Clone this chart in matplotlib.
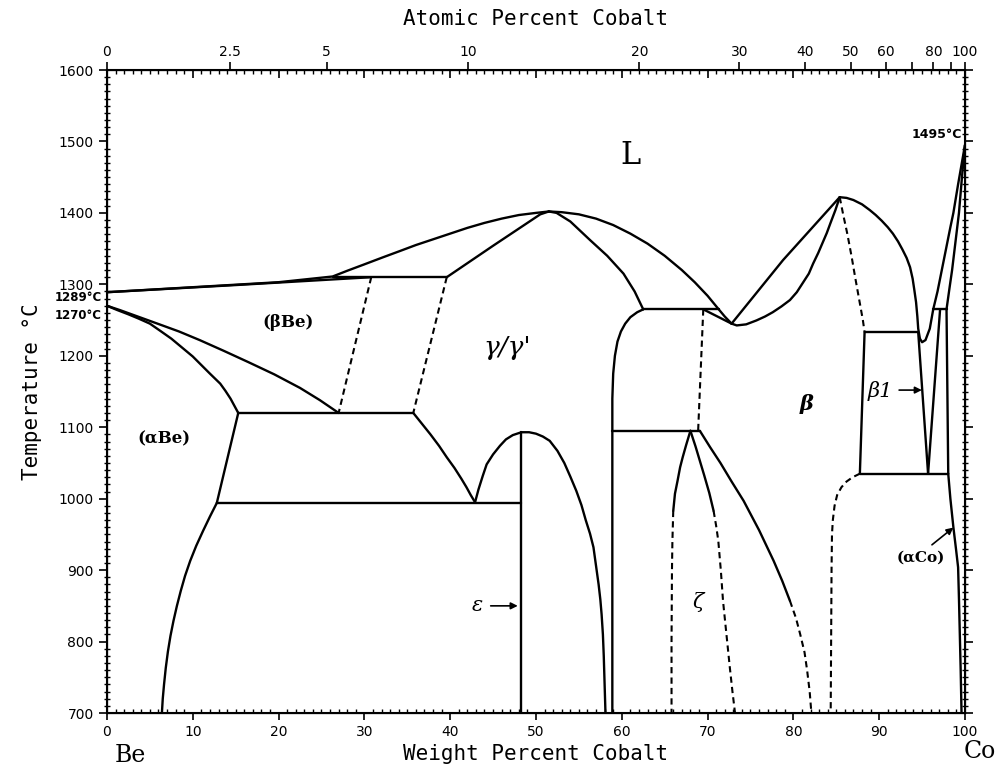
import numpy as np
import matplotlib
matplotlib.use("Agg")
import matplotlib.pyplot as plt
from matplotlib.ticker import MultipleLocator

plt.rcParams.update({'font.size': 10})

# atomic masses used for the top (atomic %) axis
M_BE, M_CO = 9.012, 58.933
at_ticks = [0, 2.5, 5, 10, 20, 30, 40, 50, 60, 70, 80, 90, 100]
at_labels = ["0", "2.5", "5", "10", "20", "30", "40", "50", "60", "", "80", "", "100"]

# phase boundaries, (wt% Co, deg C)
liq_be = [(0, 1289), (10, 1296), (20, 1303), (26.3, 1311), (28, 1319), (30, 1328), (32.2, 1338),
          (34, 1346), (36, 1355), (38, 1363), (40, 1371), (42, 1379), (44, 1386), (46, 1392),
          (48, 1397), (50, 1400), (51.5, 1402)]
sol_be = [(0, 1289), (15, 1299), (30.8, 1310)]
per_1310 = [(26.3, 1310), (39.6, 1310)]
gam_sol_l = [(39.6, 1310), (45, 1354), (50.5, 1398), (51.5, 1402)]
gam_sol_r = [(51.5, 1402), (52.4, 1400), (54, 1388), (56.3, 1362), (58.3, 1340), (60.2, 1315),
             (61.5, 1290), (62.5, 1265)]
liq_gam_r = [(51.5, 1402), (53, 1401), (55, 1398), (57, 1392), (59, 1383), (61, 1371), (63, 1357),
             (65, 1340), (67, 1320), (68.5, 1303), (70, 1284), (71.3, 1265), (72, 1255), (72.8, 1245)]
per_1265 = [(62.5, 1265), (71.3, 1265)]
tri_1265 = [(69.5, 1265), (72.8, 1245)]
gam_right = [(62.5, 1265), (61.8, 1261), (61.0, 1254), (60.4, 1245), (59.9, 1234), (59.5, 1220),
             (59.2, 1200), (59.0, 1175), (58.9, 1140), (58.9, 1095), (58.9, 700)]
line_1095 = [(58.9, 1095), (69.1, 1095)]
zeta_l = [(68.0, 1095), (67.5, 1075), (67.1, 1058), (66.8, 1044), (66.5, 1025), (66.2, 1007), (66.0, 983)]
zeta_l_d = [(66.0, 983), (65.9, 940), (65.85, 900), (65.8, 800), (65.8, 700)]
zeta_r = [(68.0, 1095), (68.6, 1073), (69.1, 1053), (69.6, 1033), (70.2, 1008), (70.7, 983)]
zeta_r_d = [(70.7, 983), (71.0, 962), (71.25, 941), (71.55, 899), (71.8, 857), (72.2, 810),
            (72.6, 763), (72.9, 730), (73.2, 700)]
beta_ll = [(69.1, 1095), (70.3, 1072), (71.5, 1050), (72.8, 1024), (74.2, 997), (76, 956),
           (77.7, 913), (78.7, 885), (79.6, 857)]
beta_ll_d = [(79.6, 857), (80.3, 833), (80.8, 810), (81.3, 785), (81.6, 760), (81.9, 730), (82.1, 700)]
dash_1265 = [(69.5, 1265), (68.9, 1095)]
beta_sol_l = [(72.8, 1245), (78.8, 1334), (85.4, 1422)]
beta_liq_l = [(72.8, 1245), (73.4, 1242.5), (74.5, 1244), (75.7, 1249.5), (76.7, 1255), (77.6, 1261),
              (78.6, 1269), (79.6, 1278), (80.4, 1289), (81.1, 1302), (81.8, 1315), (82.3, 1329),
              (82.9, 1344), (83.4, 1358), (83.9, 1372), (84.3, 1385), (84.9, 1404), (85.4, 1422)]
beta_liq_r = [(85.4, 1422), (86.2, 1421), (87, 1418), (88, 1412), (88.9, 1404), (89.6, 1397),
              (90.3, 1389), (91, 1380), (91.6, 1371), (92.2, 1360), (92.7, 1349), (93.2, 1337),
              (93.6, 1324), (93.9, 1308), (94.1, 1292), (94.3, 1275), (94.45, 1255), (94.55, 1238),
              (94.75, 1224), (95.0, 1219), (95.4, 1222), (95.9, 1238), (96.3, 1265)]
beta_peak_d = [(85.4, 1422), (85.8, 1398), (86.3, 1370), (86.8, 1338), (87.2, 1310), (87.5, 1290),
               (87.8, 1270), (88.1, 1250), (88.3, 1233)]
b1_top = [(88.3, 1233), (94.55, 1233)]
b1_left = [(88.3, 1233), (87.75, 1035)]
line_1035 = [(87.75, 1035), (98.05, 1035)]
b1_v_l = [(94.55, 1233), (95.7, 1035)]
b1_v_r = [(97.1, 1265), (95.7, 1035)]
b1_right = [(97.85, 1265), (98.05, 1035)]
line_1265b = [(96.3, 1265), (97.85, 1265)]
co_liq = [(96.3, 1265), (96.8, 1290), (97.3, 1320), (97.8, 1350), (98.3, 1380), (98.65, 1400),
          (99.2, 1440), (100, 1495)]
co_sol = [(97.85, 1265), (98.2, 1295), (98.5, 1320), (98.9, 1360), (99.3, 1400), (99.65, 1450), (100, 1495)]
co_solvus = [(98.05, 1035), (98.3, 1000), (98.65, 960), (98.95, 930), (99.2, 904), (99.3, 860),
             (99.4, 810), (99.5, 760), (99.6, 700)]
beta_rr_d = [(87.75, 1035), (86.9, 1030), (86.2, 1024), (85.6, 1016), (85.1, 1005), (84.8, 990),
             (84.6, 970), (84.5, 950), (84.45, 900), (84.4, 800), (84.35, 700)]
bbe_low = [(0, 1270), (1.5, 1264), (3, 1257.5), (4.5, 1251), (6, 1244.5), (8.4, 1234), (10.8, 1222),
           (13.6, 1207), (16.5, 1191), (19.5, 1174), (22.5, 1155), (24.8, 1138), (27.0, 1120)]
abe_up = [(0, 1270), (1.2, 1264), (2.5, 1258), (3.7, 1252), (5, 1245), (6.2, 1235), (7.5, 1224),
          (8.7, 1212), (10, 1199), (11, 1187), (12, 1175), (13.2, 1161), (13.8, 1151), (14.4, 1140),
          (15.3, 1120)]
eut_1120 = [(15.3, 1120), (35.7, 1120)]
bbe_d1 = [(30.8, 1310), (27.0, 1120)]
bbe_d2 = [(39.6, 1310), (35.7, 1120)]
abe_mid = [(15.3, 1120), (12.8, 994)]
abe_low = [(12.8, 994), (12.0, 975), (11.2, 955), (10.4, 934), (9.7, 913), (9.1, 892), (8.6, 871),
           (8.15, 850), (7.75, 829), (7.4, 808), (7.1, 786), (6.85, 763), (6.65, 740), (6.5, 720), (6.4, 700)]
line_994 = [(12.8, 994), (48.3, 994)]
gam_low_l = [(35.7, 1120), (36.7, 1105), (37.7, 1090), (38.7, 1074), (39.6, 1058), (40.5, 1043),
             (41.3, 1028), (41.9, 1016), (42.4, 1005), (42.9, 995)]
eps_up_l = [(42.9, 995), (43.3, 1013), (43.8, 1032), (44.25, 1048), (45, 1062), (45.8, 1074),
            (46.5, 1083), (47.3, 1089), (48.3, 1093)]
eps_right = [(48.3, 1093), (49.2, 1093), (50, 1091), (50.8, 1087), (51.6, 1081), (52.5, 1067),
             (53.3, 1050), (54, 1031), (54.7, 1011), (55.3, 991), (55.8, 970), (56.3, 951),
             (56.7, 932), (57.0, 906), (57.3, 880), (57.5, 859), (57.65, 838), (57.8, 810),
             (57.9, 780), (58.0, 740), (58.1, 700)]
eps_vert = [(48.3, 1093), (48.3, 700)]

solid = [liq_be, sol_be, per_1310, gam_sol_l, gam_sol_r, liq_gam_r, per_1265, tri_1265, gam_right,
         line_1095, zeta_l, zeta_r, beta_ll, beta_sol_l, beta_liq_l, beta_liq_r, b1_top, b1_left,
         line_1035, b1_v_l, b1_v_r, b1_right, line_1265b, co_liq, co_sol, co_solvus, bbe_low, abe_up,
         eut_1120, abe_mid, abe_low, line_994, gam_low_l, eps_up_l, eps_right, eps_vert]
dashed = [zeta_l_d, zeta_r_d, beta_ll_d, dash_1265, beta_peak_d, beta_rr_d, bbe_d1, bbe_d2]

fig = plt.figure(figsize=(9.98, 7.71), dpi=100)
ax = fig.add_axes([0.1072, 0.0752, 0.8597, 0.834])

for c in solid:
    c = np.array(c)
    ax.plot(c[:, 0], c[:, 1], color='k', lw=1.7, solid_capstyle='round', solid_joinstyle='round')
for c in dashed:
    c = np.array(c)
    ax.plot(c[:, 0], c[:, 1], color='k', lw=1.5, linestyle=(0, (3, 2)))

ax.set_xlim(0, 100)
ax.set_ylim(700, 1600)

# bottom / left ticks
ax.xaxis.set_major_locator(MultipleLocator(10))
ax.xaxis.set_minor_locator(MultipleLocator(1))
ax.yaxis.set_major_locator(MultipleLocator(100))
ax.yaxis.set_minor_locator(MultipleLocator(10))
ax.tick_params(axis='x', which='major', direction='out', length=5, width=1.2, top=False)
ax.tick_params(axis='x', which='minor', direction='in', length=3, width=1, top=False)
ax.tick_params(axis='y', which='major', direction='out', length=6, width=1.2, right=True)
ax.tick_params(axis='y', which='minor', direction='inout', length=4, width=1, right=True)
for s in ax.spines.values():
    s.set_linewidth(1.5)

# top spine: wt% ticks pointing in
axw = ax.twiny()
axw.set_xlim(0, 100)
axw.xaxis.set_major_locator(MultipleLocator(10))
axw.xaxis.set_minor_locator(MultipleLocator(1))
axw.tick_params(axis='x', which='both', direction='in', labeltop=False)
axw.tick_params(axis='x', which='major', length=6, width=1.2)
axw.tick_params(axis='x', which='minor', length=3, width=1)

# top: atomic percent
at = np.array(at_ticks, dtype=float)
wt_pos = 100 * at * M_CO / (at * M_CO + (100 - at) * M_BE)
axa = ax.twiny()
axa.set_xlim(0, 100)
axa.set_xticks(wt_pos)
axa.set_xticklabels(at_labels)
axa.tick_params(axis='x', direction='out', length=6, width=1.2, pad=2)
axa.set_xlabel("Atomic Percent Cobalt", family='DejaVu Sans Mono', fontsize=15, labelpad=14)

ax.set_xlabel("Weight Percent Cobalt", family='DejaVu Sans Mono', fontsize=15, labelpad=4)
ax.set_ylabel("Temperature \u00b0C", family='DejaVu Sans Mono', fontsize=15, labelpad=12)

# phase labels
ax.text(61, 1481, "L", family='DejaVu Serif', fontsize=22, ha='center', va='center')
ax.text(21.1, 1247, "(\u03b2Be)", family='DejaVu Serif', fontsize=12, fontweight='bold', ha='center', va='center')
ax.text(6.6, 1084, "(\u03b1Be)", family='DejaVu Serif', fontsize=12, fontweight='bold', ha='center', va='center')
ax.text(46.6, 1212, "\u03b3/\u03b3'", family='DejaVu Serif', fontsize=19, style='italic', ha='center', va='center')
ax.text(81.5, 1133, "\u03b2", family='DejaVu Serif', fontsize=15, style='italic', fontweight='bold', ha='center', va='center')
ax.text(68.9, 855, "\u03b6", family='DejaVu Serif', fontsize=15, style='italic', ha='center', va='center')
ax.text(43.2, 850, "\u03b5", family='DejaVu Serif', fontsize=15, style='italic', ha='center', va='center')
ax.text(90.1, 1151, "\u03b21", family='DejaVu Serif', fontsize=15, style='italic', ha='center', va='center')
ax.text(94.9, 918, "(\u03b1Co)", family='DejaVu Serif', fontsize=11, fontweight='bold', ha='center', va='center')
ax.annotate("", xy=(48.2, 850), xytext=(44.4, 850),
            arrowprops=dict(arrowstyle='-|>', color='k', lw=1.2, mutation_scale=10))
ax.annotate("", xy=(95.3, 1152), xytext=(92.0, 1152),
            arrowprops=dict(arrowstyle='-|>', color='k', lw=1.2, mutation_scale=10))
ax.annotate("", xy=(98.9, 962), xytext=(95.9, 933),
            arrowprops=dict(arrowstyle='-|>', color='k', lw=1.2, mutation_scale=10))

# special temperatures
ax.text(-0.6, 1281, "1289\u00b0C", fontsize=8.5, fontweight='bold', ha='right', va='center', clip_on=False)
ax.text(-0.6, 1257, "1270\u00b0C", fontsize=8.5, fontweight='bold', ha='right', va='center', clip_on=False)
ax.text(99.7, 1510, "1495\u00b0C", fontsize=9, fontweight='bold', ha='right', va='center')

fig.text(130 / 998, 1 - 755 / 771, "Be", family='DejaVu Serif', fontsize=17, ha='center', va='center')
fig.text(980 / 998, 1 - 752 / 771, "Co", family='DejaVu Serif', fontsize=17, ha='center', va='center')

fig.savefig("out.png", dpi=100)
